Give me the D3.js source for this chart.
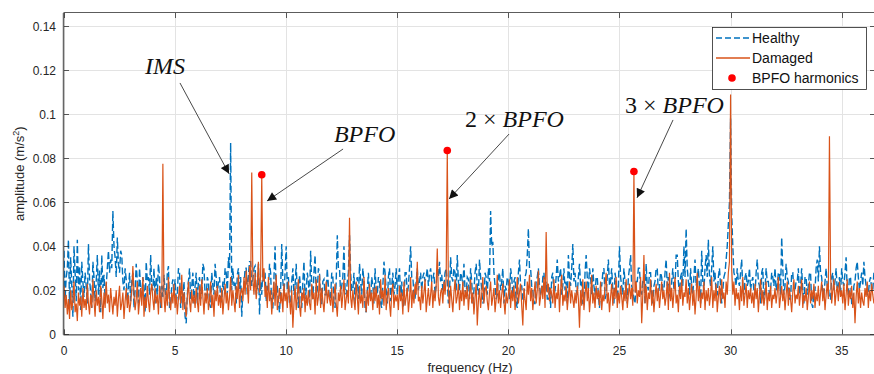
<!DOCTYPE html>
<html>
<head>
<meta charset="utf-8">
<script src="https://cdn.jsdelivr.net/npm/d3@7/dist/d3.min.js"></script>
<style>
  html, body { margin: 0; padding: 0; background: #fff; }
  svg { display: block; font-family: "Liberation Sans", Arial, Helvetica, sans-serif; }
</style>
</head>
<body>
<div id="chart"></div>
<script>
// spectrum bins: row r holds 20 bins, f = r + j * 0.05 Hz
const BIN = 0.05;

// amplitudes in 1e-3 m/s^2
const healthyRows = [
  [38,16,26,30,43,12,35,22,8,40,28,15,43,20,31,11,33,24,17,28],
  [22,14,41,25,19,12,33,26,15,24,36,18,29,10,36,21,27,16,22,30],
  [38,28,34,30,56,40,35,26,44,32,28,38,36,24,20,30,25,15,21,28],
  [15,24,28,12,20,32,24,14,30,20,18,26,22,10,33,24,26,18,36,22],
  [20,30,14,26,18,32,26,12,22,17,27,20,16,28,31,12,14,22,25,18],
  [25,14,18,30,28,12,20,16,24,8,5,18,24,30,16,22,28,14,22,28],
  [14,24,26,16,20,32,30,18,17,26,24,14,12,28,22,18,32,26,18,24],
  [26,16,15,24,20,30,28,18,35,30,87,20,30,22,24,14,27,30,20,26],
  [8,20,22,30,30,18,27,33,33,22,25,30,31,18,20,32,9,24,18,30],
  [24,28,15,22,20,32,28,12,12,26,40,18,22,14,10,20,41,24,18,28],
  [40,20,26,14,14,24,30,18,22,32,18,12,27,20,12,24,33,16,20,28],
  [24,14,38,22,16,28,36,18,20,30,28,14,14,24,25,18,18,30,22,16],
  [17,28,26,14,12,24,45,30,30,18,22,26,40,20,18,24,28,45,28,20],
  [20,28,14,24,26,16,32,24,18,30,24,12,10,20,28,18,16,26,22,14],
  [30,20,18,26,24,14,12,22,33,28,20,14,26,30,15,22,28,18,22,30],
  [18,26,30,16,24,12,14,28,28,18,22,30,40,26,26,18,16,24,30,20],
  [24,28,20,26,28,24,26,30,22,27,30,24,25,28,18,22,29,26,33,24],
  [27,20,22,28,30,24,14,18,35,26,24,30,28,20,36,24,20,28,26,22],
  [32,20,18,26,25,16,30,24,14,20,28,32,22,18,34,26,20,14,16,28],
  [26,18,30,24,56,40,42,28,22,16,18,26,28,20,24,30,14,22,20,26],
  [24,16,30,26,18,24,26,14,12,28,34,22,22,16,16,26,28,36,48,30],
  [30,22,20,14,14,24,26,30,22,18,18,26,28,20,24,16,16,22,12,26],
  [28,18,20,26,34,24,26,30,18,22,30,20,24,14,36,26,22,30,41,24],
  [28,20,18,26,32,22,24,14,14,28,36,26,20,30,26,18,30,22,18,26],
  [26,18,12,22,22,28,30,16,18,26,34,22,24,30,20,14,28,24,16,22],
  [40,26,22,18,30,24,18,14,26,30,36,22,20,16,14,24,24,30,30,20],
  [18,24,26,14,32,22,20,28,28,18,14,22,24,30,30,18,22,28,26,20],
  [20,28,34,22,26,18,16,24,30,20,22,36,36,24,18,26,28,22,40,26],
  [48,30,24,18,30,22,18,26,34,22,26,30,22,14,38,24,20,30,36,26],
  [43,26,22,30,40,24,28,18,18,26,30,22,14,20,26,28,34,40,50,60],
  [98,55,40,28,26,22,30,24,22,28,34,20,18,26,28,22,24,30,20,24],
  [26,20,18,28,34,24,22,14,28,30,14,20,30,24,24,18,20,28,26,22],
  [30,20,22,28,28,18,44,30,18,22,32,26,24,16,16,28,28,20,20,24],
  [24,30,18,22,30,20,14,26,26,18,22,28,28,14,12,20,20,30,34,24],
  [40,28,26,18,18,24,30,22,22,16,16,26,28,20,24,30,20,22,26,18],
  [30,24,22,28,35,20,18,26,26,14,14,22,24,30,33,26,20,24,28,22],
  [33,26,22,18,18,24,26,20,20,28]
];

const damagedRows = [
  [22,12,18,9,16,7,20,11,15,24,10,14,6,19,13,17,8,21,12,16],
  [11,23,14,9,18,12,25,15,8,20,13,17,10,22,16,7,19,12,24,14],
  [18,10,21,15,9,17,13,20,8,16,22,11,14,19,7,15,21,12,18,10],
  [14,20,31,18,11,16,24,9,15,21,13,26,8,17,12,22,15,10,19,23],
  [16,11,21,14,18,9,22,15,12,77.5,17,10,20,13,26,16,11,19,14,23],
  [12,18,9,16,22,14,27,11,19,13,8,17,24,15,10,20,14,18,12,21],
  [15,10,22,13,25,17,9,19,14,21,11,16,24,12,18,8,20,15,22,13],
  [18,12,21,9,16,23,14,19,11,17,26,13,20,15,10,22,16,27,12,19],
  [21,15,26,18,29,22,14,31,20,73.5,25,18,28,16,23,33,19,27,72.5,24],
  [30,17,22,12,26,15,20,9,18,24,13,27,11,16,21,14,19,10,23,15],
  [19,12,24,16,9,20,3,14,22,11,17,25,13,8,19,15,21,10,18,13],
  [20,14,11,23,16,19,9,25,13,17,27,12,21,15,10,18,24,14,20,16],
  [13,21,10,17,23,14,8,19,15,22,12,18,25,11,16,20,14,53,17,12],
  [20,15,11,24,17,9,22,14,18,12,26,16,10,20,13,23,15,19,11,21],
  [15,22,12,18,9,25,16,20,13,27,11,17,21,14,8,19,23,12,18,15],
  [18,11,22,15,19,9,24,13,17,21,10,16,26,12,20,14,23,18,33,15],
  [17,11,22,14,19,25,10,16,21,13,18,24,12,20,15,22,39,17,13,19],
  [21,14,24,18,26,83.5,20,12,22,16,10,19,25,14,17,23,11,20,15,24],
  [13,20,16,22,11,18,25,14,19,9,17,23,4,15,21,12,18,26,14,20],
  [22,15,11,19,24,13,17,21,10,16,27,14,20,12,18,23,15,9,19,14],
  [18,25,12,20,15,22,11,17,26,14,19,23,13,4,21,16,11,24,18,27],
  [15,21,11,18,24,14,20,29,13,17,22,16,26,12,46.5,19,23,15,21,18],
  [14,25,12,19,16,23,10,20,27,13,18,15,22,11,17,24,14,20,16,12],
  [19,14,22,16,3,20,13,25,11,18,24,15,21,10,17,27,14,19,12,22],
  [16,20,13,24,11,18,15,22,28,14,19,10,17,23,13,21,16,26,12,19],
  [14,22,17,11,20,15,25,12,18,23,16,21,13,74,19,24,14,20,17,26],
  [5,18,36,14,22,11,19,16,25,13,20,10,17,23,15,21,12,18,24,16],
  [20,13,17,24,11,28,15,21,12,19,26,14,18,10,22,16,25,13,19,17],
  [25,14,21,11,18,23,13,20,9,17,28,15,22,12,19,16,24,11,20,15],
  [21,13,18,26,12,20,15,23,10,17,22,14,25,16,19,12,24,18,28,33],
  [109,30,18,24,13,21,16,19,11,22,15,26,13,18,23,12,20,16,21,14],
  [19,12,23,16,21,10,18,25,14,20,13,17,24,11,19,15,22,12,18,16],
  [21,14,19,26,12,17,22,15,20,11,18,24,13,21,16,10,19,25,14,18],
  [16,22,13,19,25,12,18,15,21,11,17,24,14,20,16,23,12,19,15,22],
  [13,19,24,15,21,11,18,23,16,90,28,14,20,25,13,19,22,15,24,17],
  [20,14,23,11,18,25,13,20,16,22,12,19,5,17,24,14,21,12,19,15],
  [13,21,17,24,12,20,15,23,18,14]
];

// BPFO harmonic markers
const bpfoFreq = [8.9, 17.25, 25.65];
const bpfoAmp = [0.0725, 0.0835, 0.074];

const xTicks = [0, 5, 10, 15, 20, 25, 30, 35];
const yTicks = [0, 0.02, 0.04, 0.06, 0.08, 0.1, 0.12, 0.14];

// annotations: label anchor + arrow start/tip, in data units
const notes = [
  { pre: "", label: "IMS", tx: 3.65, ty: 0.1183, x1: 5.22, y1: 0.1142, x2: 7.43, y2: 0.0729 },
  { pre: "", label: "BPFO", tx: 12.15, ty: 0.0874, x1: 12.56, y1: 0.0842, x2: 9.14, y2: 0.0606 },
  { pre: "2 \u00d7 ", label: "BPFO", tx: 18.05, ty: 0.0942, x1: 20.03, y1: 0.091, x2: 17.33, y2: 0.0615 },
  { pre: "3 \u00d7 ", label: "BPFO", tx: 25.25, ty: 0.1006, x1: 27.41, y1: 0.0974, x2: 25.79, y2: 0.062 }
];

const toPoints = rows => d3.merge(rows.map((row, r) =>
  row.map((v, j) => ({ f: r + j * BIN, a: v / 1000 }))));
const healthy = toPoints(healthyRows);
const damaged = toPoints(damagedRows);

const W = 874, H = 374;
const M = { left: 64, top: 13, right: 875, bottom: 334.3 };
const BLUE = "#0072BD", ORANGE = "#D95319", AXIS = "#262626";

const svg = d3.select("#chart").append("svg")
  .attr("width", W).attr("height", H);

const x = d3.scaleLinear().domain([0, 36.5]).range([M.left, M.right]);
const y = d3.scaleLinear().domain([0, 0.146]).range([M.bottom, M.top]);

svg.append("defs").append("clipPath").attr("id", "plot")
  .append("rect").attr("x", M.left).attr("y", M.top)
  .attr("width", M.right - M.left).attr("height", M.bottom - M.top);

// grid
svg.append("g").selectAll("line").data(xTicks).enter().append("line")
  .attr("x1", d => Math.round(x(d)) + 0.5).attr("x2", d => Math.round(x(d)) + 0.5)
  .attr("y1", M.top).attr("y2", M.bottom)
  .attr("stroke", "#e3e3e3").attr("stroke-width", 1);
svg.append("g").selectAll("line").data(yTicks).enter().append("line")
  .attr("y1", d => Math.round(y(d)) + 0.5).attr("y2", d => Math.round(y(d)) + 0.5)
  .attr("x1", M.left).attr("x2", M.right)
  .attr("stroke", "#e3e3e3").attr("stroke-width", 1);

// series
const line = d3.line().x(d => x(d.f)).y(d => y(d.a));

const plot = svg.append("g").attr("clip-path", "url(#plot)");
plot.append("path").datum(healthy)
  .attr("d", line).attr("fill", "none")
  .attr("stroke", BLUE).attr("stroke-width", 1.4)
  .attr("stroke-dasharray", "7,3");
plot.append("path").datum(damaged)
  .attr("d", line).attr("fill", "none")
  .attr("stroke", ORANGE).attr("stroke-width", 1.2);
plot.selectAll(".bpfo").data(bpfoFreq).enter().append("circle")
  .attr("class", "bpfo")
  .attr("cx", d => x(d)).attr("cy", (d, i) => y(bpfoAmp[i]))
  .attr("r", 3.8).attr("fill", "#ff0000");

// axes box + ticks
const ax = svg.append("g");
ax.append("line").attr("x1", M.left - 0.5).attr("x2", M.left - 0.5)
  .attr("y1", M.top).attr("y2", M.bottom + 0.5)
  .attr("stroke", AXIS).attr("stroke-width", 1.5).attr("opacity", 0.7);
ax.append("line").attr("x1", M.left - 0.5).attr("x2", M.right)
  .attr("y1", M.top - 0.5).attr("y2", M.top - 0.5)
  .attr("stroke", AXIS).attr("stroke-width", 1.2).attr("opacity", 0.75);
ax.append("line").attr("x1", M.left - 0.5).attr("x2", M.right)
  .attr("y1", M.bottom + 0.5).attr("y2", M.bottom + 0.5)
  .attr("stroke", AXIS).attr("stroke-width", 1.2).attr("opacity", 0.75);

xTicks.forEach(t => {
  const px = Math.round(x(t)) + 0.5;
  ax.append("line").attr("x1", px).attr("x2", px).attr("y1", M.bottom).attr("y2", M.bottom - 5)
    .attr("stroke", AXIS).attr("opacity", 0.75);
  ax.append("line").attr("x1", px).attr("x2", px).attr("y1", M.top).attr("y2", M.top + 5)
    .attr("stroke", AXIS).attr("opacity", 0.75);
  ax.append("text").attr("x", x(t)).attr("y", 355)
    .attr("text-anchor", "middle").attr("font-size", 12).attr("fill", AXIS)
    .text(t);
});
yTicks.forEach(t => {
  const py = Math.round(y(t)) + 0.5;
  ax.append("line").attr("x1", M.left).attr("x2", M.left + 5).attr("y1", py).attr("y2", py)
    .attr("stroke", AXIS).attr("opacity", 0.75);
  ax.append("line").attr("x1", M.right - 5).attr("x2", M.right).attr("y1", py).attr("y2", py)
    .attr("stroke", AXIS).attr("opacity", 0.75);
  ax.append("text").attr("x", 56).attr("y", y(t)).attr("dy", "0.36em")
    .attr("text-anchor", "end").attr("font-size", 12).attr("fill", AXIS)
    .text(t);
});

// axis labels
svg.append("text").attr("x", 470).attr("y", 372)
  .attr("text-anchor", "middle").attr("font-size", 13).attr("fill", AXIS)
  .text("frequency (Hz)");
const yl = svg.append("text")
  .attr("transform", `translate(24,${(M.top + M.bottom) / 2}) rotate(-90)`)
  .attr("text-anchor", "middle").attr("font-size", 13).attr("fill", AXIS);
yl.append("tspan").text("amplitude (m/s");
yl.append("tspan").attr("font-size", 9).attr("dy", -5).text("2");
yl.append("tspan").attr("dy", 5).text(")");

// annotations
svg.append("defs").append("marker").attr("id", "arrow")
  .attr("viewBox", "0 0 10 10").attr("refX", 10).attr("refY", 5)
  .attr("markerWidth", 12).attr("markerHeight", 9).attr("markerUnits", "userSpaceOnUse")
  .attr("orient", "auto")
  .append("path").attr("d", "M0,0 L10,5 L0,10 Z").attr("fill", "#111");

notes.forEach(n => {
  svg.append("line")
    .attr("x1", x(n.x1)).attr("y1", y(n.y1)).attr("x2", x(n.x2)).attr("y2", y(n.y2))
    .attr("stroke", "#333").attr("stroke-width", 0.9)
    .attr("marker-end", "url(#arrow)");
  const t = svg.append("text").attr("x", x(n.tx)).attr("y", y(n.ty))
    .attr("font-family", "'Liberation Serif', 'DejaVu Serif', serif")
    .attr("font-size", 24).attr("fill", "#111");
  if (n.pre) t.append("tspan").text(n.pre);
  t.append("tspan").attr("font-style", "italic").text(n.label);
});

// legend
const lg = svg.append("g");
lg.append("rect").attr("x", 712.5).attr("y", 27.5).attr("width", 154).attr("height", 62)
  .attr("fill", "#fff").attr("stroke", AXIS).attr("stroke-width", 0.8);
const items = [
  { name: "Healthy", kind: "dash" },
  { name: "Damaged", kind: "line" },
  { name: "BPFO harmonics", kind: "dot" }
];
items.forEach((it, i) => {
  const cy = 38 + i * 20;
  if (it.kind === "dot") {
    lg.append("circle").attr("cx", 732).attr("cy", cy).attr("r", 3.8).attr("fill", "#ff0000");
  } else {
    lg.append("line").attr("x1", 716).attr("x2", 750).attr("y1", cy).attr("y2", cy)
      .attr("stroke", it.kind === "dash" ? BLUE : ORANGE).attr("stroke-width", 1.3)
      .attr("stroke-dasharray", it.kind === "dash" ? "6,3" : null);
  }
  lg.append("text").attr("x", 752).attr("y", cy).attr("dy", "0.36em")
    .attr("font-size", 14).attr("fill", "#111").text(it.name);
});
</script>
</body>
</html>
